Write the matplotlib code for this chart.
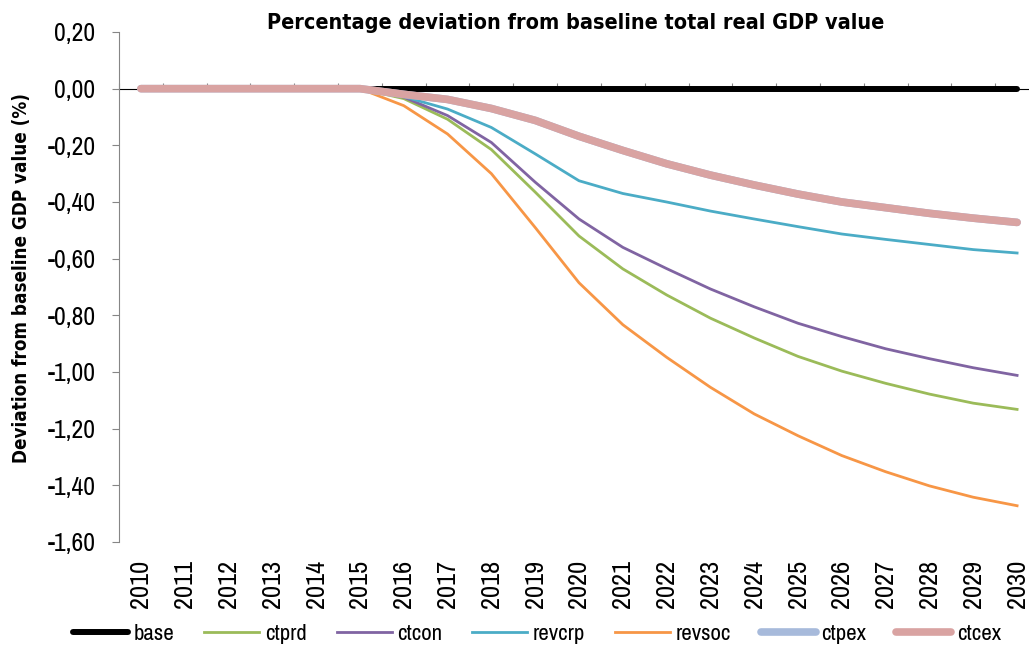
import numpy as np
import matplotlib
matplotlib.use('Agg')
import matplotlib.pyplot as plt
from matplotlib import font_manager
from matplotlib.font_manager import FontProperties
from matplotlib.ticker import FuncFormatter

# condensed face like the original, if one is installed
fonts = font_manager.fontManager.ttflist
narrow = sorted({f.name for f in fonts if 'Narrow' in f.name or 'Condensed' in f.name})
plt.rcParams['font.family'] = narrow[:1] + ['Liberation Sans', 'DejaVu Sans']
bold_files = sorted(f.fname for f in fonts
                    if ('Narrow' in f.fname or 'Condensed' in f.fname)
                    and 'Bold' in f.fname and 'Italic' not in f.fname)
if bold_files:
    bold_fp = FontProperties(fname=bold_files[0])
else:
    bold_fp = FontProperties(family=narrow[:1] + ['Liberation Sans'], weight='bold')

years = [str(y) for y in range(2010, 2031)]

base   = [0.0] * 21
ctprd  = [0, 0, 0, 0, 0, 0, -0.035, -0.108, -0.215, -0.365, -0.52, -0.636, -0.728, -0.81, -0.88, -0.945,
          -0.997, -1.04, -1.078, -1.11, -1.132]
ctcon  = [0, 0, 0, 0, 0, 0, -0.03, -0.095, -0.19, -0.33, -0.46, -0.56, -0.635, -0.707, -0.77, -0.828,
          -0.875, -0.918, -0.953, -0.985, -1.012]
revcrp = [0, 0, 0, 0, 0, 0, -0.028, -0.072, -0.137, -0.23, -0.325, -0.37, -0.40, -0.432, -0.46, -0.487,
          -0.513, -0.532, -0.55, -0.568, -0.58]
revsoc = [0, 0, 0, 0, 0, 0, -0.06, -0.16, -0.30, -0.49, -0.685, -0.833, -0.948, -1.054, -1.148, -1.225,
          -1.295, -1.352, -1.402, -1.442, -1.472]
ctpex  = [0, 0, 0, 0, 0, 0, -0.02, -0.038, -0.07, -0.112, -0.168, -0.218, -0.265, -0.305, -0.34, -0.372,
          -0.40, -0.42, -0.44, -0.457, -0.472]
ctcex  = [0, 0, 0, 0, 0, 0, -0.02, -0.038, -0.07, -0.112, -0.168, -0.218, -0.265, -0.305, -0.34, -0.372,
          -0.40, -0.42, -0.44, -0.457, -0.472]

x = np.arange(len(years))

fig = plt.figure(figsize=(10.29, 6.46), dpi=100)
ax = fig.add_axes([119 / 1029, 1 - 542 / 646, 920 / 1029, 510 / 646])

ax.plot(x, base, color='black', lw=4.3, solid_capstyle='round', label='base', zorder=3)
ax.plot(x, ctprd, color='#9BBB59', lw=2.0, label='ctprd')
ax.plot(x, ctcon, color='#8064A2', lw=2.0, label='ctcon')
ax.plot(x, revcrp, color='#4BACC6', lw=2.0, label='revcrp')
ax.plot(x, revsoc, color='#F79646', lw=2.0, label='revsoc')
ax.plot(x, ctpex, color='#A7BADB', lw=5.5, solid_capstyle='round', label='ctpex', zorder=4)
ax.plot(x, ctcex, color='#D9A3A2', lw=5.5, solid_capstyle='round', label='ctcex', zorder=4)

ax.set_xlim(-0.5, len(years) - 0.5)
ax.set_ylim(-1.6, 0.2)
ax.set_yticks(np.round(np.arange(-1.6, 0.21, 0.2), 2))
ax.yaxis.set_major_formatter(FuncFormatter(lambda v, p: f'{round(v, 2) + 0:.2f}'.replace('.', ',')))
ax.tick_params(axis='y', direction='out', length=5, color='#868686', labelsize=18.5, pad=12)

ax.set_xticks(x)
ax.set_xticklabels(years, rotation=90, fontsize=19)
ax.tick_params(axis='x', length=0, pad=13)

for s in ['top', 'right', 'bottom']:
    ax.spines[s].set_visible(False)
ax.spines['left'].set_color('#868686')

# horizontal category axis crossing at zero
zero_pos = (0 - (-1.6)) / 1.8
sec = ax.secondary_xaxis(zero_pos)
sec.spines['bottom'].set_color('#868686')
sec.set_xticks(np.arange(-0.5, len(years), 1.0))
sec.tick_params(direction='out', length=4, color='#868686', labelbottom=False, labeltop=False)

bold_fp.set_size(13.5)
ax.set_ylabel('Deviation from baseline GDP value (%)', fontproperties=bold_fp)
ax.yaxis.set_label_coords(-0.096, 0.518)
title_fp = bold_fp.copy()
title_fp.set_size(15.5)
fig.text(0.559, 0.964, 'Percentage deviation from baseline total real GDP value',
         ha='center', va='center', fontproperties=title_fp)

fig.legend(loc='center', bbox_to_anchor=(0.522, 0.019), ncol=7, frameon=False, fontsize=16.5,
           handlelength=2.4, columnspacing=1.3, handletextpad=0.25)

fig.savefig('out.png', dpi=100)
